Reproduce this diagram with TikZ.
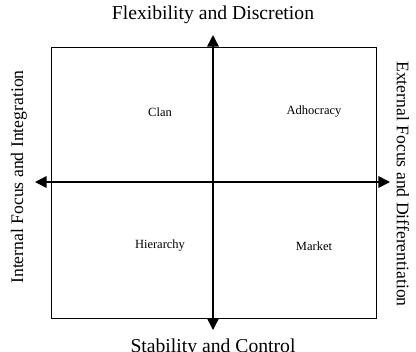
\documentclass[tikz,border=0pt]{standalone}
\usepackage{fontspec}
\setmainfont{Liberation Serif}
\usetikzlibrary{positioning, calc, arrows.meta}
\tikzset{axis/.style={line width=0.9pt, -{Triangle[length=7pt,width=7pt]}}}
\tikzset{quad/.style={font=\fontsize{7.5}{9}\selectfont}}
\tikzset{pole/.style={font=\fontsize{11.8}{13}\selectfont}}
\tikzset{side/.style={font=\fontsize{10.6}{12}\selectfont}}

\begin{document}
\begin{tikzpicture}[x=0.6pt, y=-0.6pt]

      \useasboundingbox (0,0) rectangle (416,351);

      % FRAME

      \draw[line width=0.4pt] (51,47) rectangle (376,318);

      % AXES

      \coordinate (top) at (213,35);
      \coordinate (bottom) at (213,330);
      \coordinate (left) at (35,182);
      \coordinate (right) at (390,182);
      \coordinate (centre) at (213,182);

      \draw[axis] (centre) -- (top);
      \draw[axis] (centre) -- (bottom);
      \draw[axis] (centre) -- (left);
      \draw[axis] (centre) -- (right);

      % POLES

      \node[pole, anchor=south] (flex) at ($(top)-(0,5)$) {Flexibility and Discretion};
      \node[pole, anchor=north] (stab) at ($(bottom)+(0,3)$) {Stability and Control};
      \node[side, rotate=90] (internal) at (19,177) {Internal Focus and Integration};
      \node[side, rotate=-90] (external) at (403,184) {External Focus and Differentiation};

      % QUADRANTS

      \node[quad] (clan) at (160,112) {Clan};
      \node[quad] (adhocracy) at (314,112) {Adhocracy};
      \node[quad] (hierarchy) at (160,246) {Hierarchy};
      \node[quad] (market) at (314,246) {Market};
    \end{tikzpicture}
\end{document}
